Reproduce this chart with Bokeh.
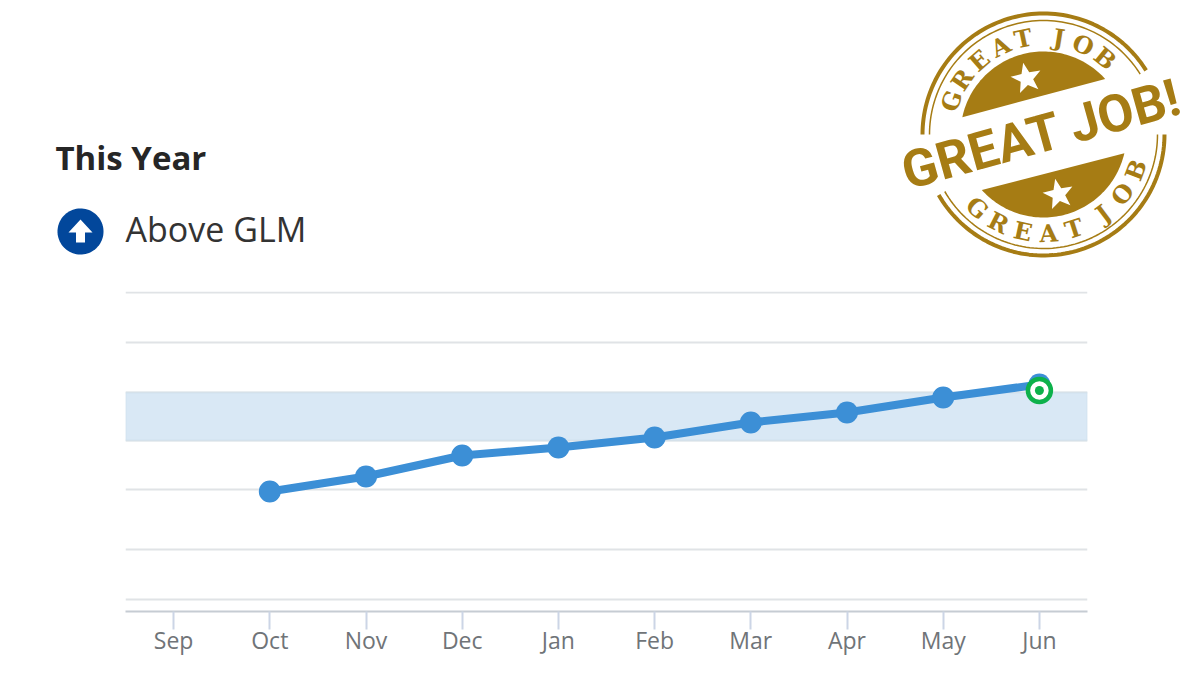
import numpy as np
from bokeh.core.properties import value
from bokeh.embed import file_html
from bokeh.layouts import column
from bokeh.resources import INLINE
from bokeh.plotting import figure
from bokeh.models import BoxAnnotation, FactorRange, FixedTicker, Range1d

months = ["Sep", "Oct", "Nov", "Dec", "Jan", "Feb", "Mar", "Apr", "May", "Jun"]
line_months = ["Oct", "Nov", "Dec", "Jan", "Feb", "Mar", "Apr", "May", "Jun"]
line_values = [120, 135, 156, 164, 174, 189, 199, 214, 227]
target_month = ["Jun"]
target_value = [221]
grid_values = [12, 62, 122, 171, 219, 269, 319]
band_low = 171
band_high = 219

stamp_letters = ["G", "R", "E", "A", "T", "J", "O", "B"]
stamp_top_angles = [160, 146, 131, 116, 102, 81, 66, 51]
stamp_bottom_angles = [228, 243, 258, 273, 288, 307, 323, 339]

W = 1192
HEAD_H = 291
CHART_H = 370
GOLD = "#a67c14"


def add_text(p, x, y, text, size, color, font="Open Sans", style="normal", angle=0, align="left"):
    p.text([x], [y], text=[text], angle=angle, text_font=value(font), text_font_size=f"{size}px",
           text_font_style=style, text_color=color, text_align=align, text_baseline="middle")


def arc(cx, cy, r, a0, a1, n=80):
    t = np.radians(np.linspace(a0, a1, n))
    return cx + r * np.cos(t), cy - r * np.sin(t)


def add_star(p, cx, cy, r, rot):
    t = np.radians(90 + rot + np.arange(10) * 36)
    rr = np.where(np.arange(10) % 2 == 0, r, r * 0.42)
    p.patch(cx + rr * np.cos(t), cy - rr * np.sin(t), fill_color="white", line_color=None)


def add_badge(p):
    cx, cy = 1043, 134
    # rings
    for a0, a1 in [(32, 180), (0, -150)]:
        x, y = arc(cx, cy, 121, a0, a1)
        p.line(x, y, line_color=GOLD, line_width=4)
        x, y = arc(cx, cy, 114, a0, a1)
        p.line(x, y, line_color=GOLD, line_width=1.5)
    # gold segments above and below the banner
    for a0, a1 in [(42, 168), (222, 347)]:
        x, y = arc(cx, cy, 83, a0, a1)
        p.patch(x, y, fill_color=GOLD, line_color=None)
    add_star(p, 1026, 78, 16, 12)
    add_star(p, 1058, 194, 16, 12)
    # curved lettering
    for ch, a in zip(stamp_letters, stamp_top_angles):
        x, y = arc(cx, cy, 98, a, a, 1)
        add_text(p, x[0], y[0], ch, 24, GOLD, "DejaVu Serif", "bold", np.radians(a - 90), "center")
    for ch, a in zip(stamp_letters, stamp_bottom_angles):
        x, y = arc(cx, cy, 99, a, a, 1)
        add_text(p, x[0], y[0], ch, 24, GOLD, "DejaVu Serif", "bold", np.radians(a + 90), "center")
    add_text(p, 1041, 134, "GREAT JOB!", 52, GOLD, "Roboto", "bold", np.radians(15.5), "center")


# header panel: title, status icon and stamp, laid out in page pixels
head = figure(width=W, height=HEAD_H, x_range=Range1d(0, W), y_range=Range1d(HEAD_H, 0),
              output_backend="svg", toolbar_location=None, x_axis_location=None, y_axis_location=None,
              min_border=0, frame_align=False)
head.outline_line_color = None
head.grid.visible = False

add_text(head, 55, 157, "This Year", 33, "#262626", style="bold")
add_text(head, 125, 228, "Above GLM", 34, "#333333")
x, y = arc(80, 231, 23, 0, 360)
head.patch(x, y, fill_color="#02479b", line_color=None)
head.patch([80, 92, 84.5, 84.5, 75.5, 75.5, 68], [219, 232, 232, 242, 242, 232, 232],
           fill_color="white", line_color=None)
add_badge(head)

p = figure(width=W, height=CHART_H, x_range=FactorRange(factors=months, range_padding=0, factor_padding=0),
           y_range=Range1d(0, 320), output_backend="svg", toolbar_location=None, y_axis_location=None,
           min_border_left=125, min_border_right=105, min_border_top=0, min_border_bottom=50, frame_align=False)
p.outline_line_color = None
p.xgrid.visible = False
p.ygrid.ticker = FixedTicker(ticks=grid_values)
p.ygrid.grid_line_color = "#e0e3e6"
p.ygrid.grid_line_width = 2

p.xaxis.axis_line_color = "#c6ccd3"
p.xaxis.axis_line_width = 2
p.xaxis.major_tick_line_color = "#ccd5e6"
p.xaxis.major_tick_line_width = 2
p.xaxis.major_tick_in = 0
p.xaxis.major_tick_out = 18
p.xaxis.major_label_standoff = -6
p.xaxis.major_label_text_font = "Open Sans"
p.xaxis.major_label_text_font_size = "23px"
p.xaxis.major_label_text_color = "#707478"

p.add_layout(BoxAnnotation(bottom=band_low, top=band_high, fill_color="#d9e8f5", fill_alpha=1,
                           line_color="#c5d6e2", line_width=2, level="underlay"))

p.line(line_months, line_values, line_color="#3c8fd6", line_width=8)
p.scatter(line_months, line_values, size=22, fill_color="#3c8fd6", line_color=None)
p.scatter(target_month, target_value, size=23, fill_color="white", line_color="#0db14b", line_width=4.5)
p.scatter(target_month, target_value, size=9, fill_color="#0db14b", line_color=None)

layout = column(head, p, spacing=0)
open("out.html", "w").write(file_html(layout, INLINE))
